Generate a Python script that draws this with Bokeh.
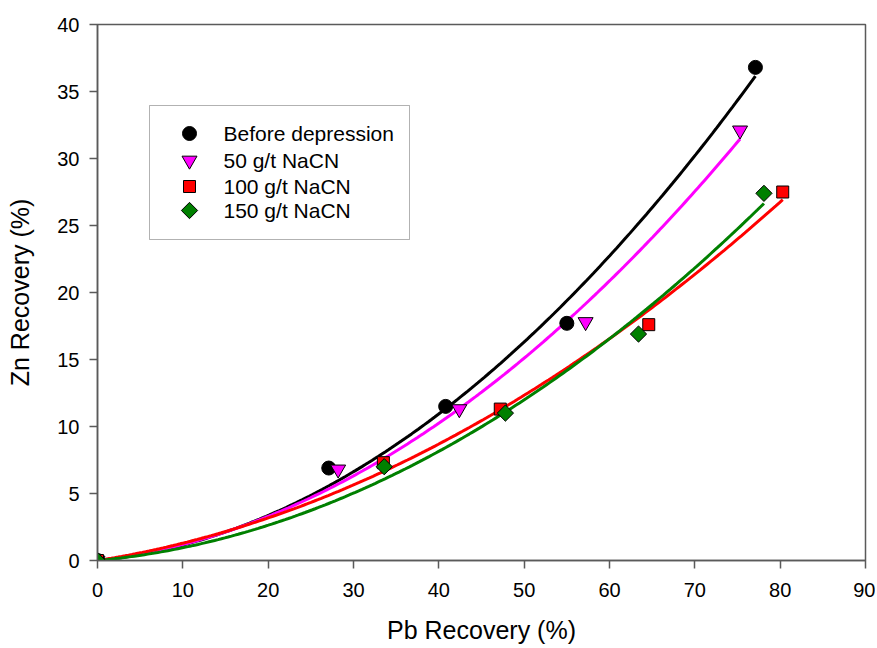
import numpy as np
from bokeh.plotting import figure
from bokeh.models import FixedTicker, BoxAnnotation, Label
from bokeh.embed import file_html
from bokeh.resources import INLINE

# ---- data ----
series_names = ["Before depression", "50 g/t NaCN", "100 g/t NaCN", "150 g/t NaCN"]
pb_before = [0.0, 27.1, 40.8, 55.0, 77.1]
zn_before = [0.0, 6.9, 11.5, 17.7, 36.8]
pb_50 = [0.0, 28.2, 42.4, 57.2, 75.3]
zn_50 = [0.0, 6.8, 11.3, 17.8, 32.1]
pb_100 = [0.0, 33.5, 47.2, 64.6, 80.3]
zn_100 = [0.0, 7.3, 11.3, 17.6, 27.5]
pb_150 = [0.0, 33.6, 47.8, 63.4, 78.1]
zn_150 = [0.0, 7.0, 11.0, 16.9, 27.4]
x_ticks = [0, 10, 20, 30, 40, 50, 60, 70, 80, 90]
y_ticks = [0, 5, 10, 15, 20, 25, 30, 35, 40]

FONT = "Liberation Sans"
X0, X1, Y0, Y1 = 0, 90, 0, 40
W, H = 875, 646
B_LEFT, B_RIGHT, B_TOP, B_BOTTOM = 97, 10, 24, 86
FRAME_W = W - B_LEFT - B_RIGHT
FRAME_H = H - B_TOP - B_BOTTOM

p = figure(width=W, height=H, x_range=(X0, X1), y_range=(Y0, Y1),
           output_backend="svg", toolbar_location=None,
           min_border_left=B_LEFT, min_border_right=B_RIGHT,
           min_border_top=B_TOP, min_border_bottom=B_BOTTOM)

p.xgrid.visible = False
p.ygrid.visible = False
p.outline_line_color = "#5a5a5a"
p.outline_line_width = 1.5

for ax in (p.xaxis[0], p.yaxis[0]):
    ax.axis_line_color = "#5a5a5a"
    ax.axis_line_width = 1.5
    ax.major_tick_line_color = "#5a5a5a"
    ax.major_tick_line_width = 1.5
    ax.major_tick_out = 8
    ax.major_tick_in = 0
    ax.minor_tick_line_color = None
    ax.major_label_text_font = FONT
    ax.major_label_text_font_size = "20px"
    ax.major_label_text_color = "#000000"
    ax.axis_label_text_font = FONT
    ax.axis_label_text_font_size = "25px"
    ax.axis_label_text_font_style = "normal"
    ax.axis_label_text_color = "#000000"

p.xaxis.ticker = FixedTicker(ticks=x_ticks)
p.yaxis.ticker = FixedTicker(ticks=y_ticks)
p.xaxis.axis_label = "Pb Recovery (%)"
p.yaxis.axis_label = "Zn Recovery (%)"
p.xaxis.major_label_standoff = 14
p.yaxis.major_label_standoff = 10
p.xaxis.axis_label_standoff = 16
p.yaxis.axis_label_standoff = 20


def fit_curve(xs, ys):
    """Least-squares quadratic through the origin: y = a*x + b*x^2."""
    xs = np.asarray(xs, dtype=float)
    ys = np.asarray(ys, dtype=float)
    A = np.column_stack([xs, xs ** 2])
    (a, b), *_ = np.linalg.lstsq(A, ys, rcond=None)
    xx = np.linspace(0, xs.max(), 200)
    return xx, a * xx + b * xx ** 2


colors = ["#000000", "#ff00ff", "#ff0000", "#008000"]
datasets = [(pb_before, zn_before), (pb_50, zn_50), (pb_100, zn_100), (pb_150, zn_150)]
marker_styles = [
    dict(marker="circle", size=14, angle=0.0),
    dict(marker="inverted_triangle", size=15, angle=0.0),
    dict(marker="square", size=12, angle=0.0),
    dict(marker="square", size=11.5, angle=np.pi / 4),
]

# fitted curves
for (xs, ys), c in zip(datasets, colors):
    xx, yy = fit_curve(xs, ys)
    p.line(xx, yy, line_color=c, line_width=3)

# data markers
for (xs, ys), c, st in zip(datasets, colors, marker_styles):
    p.scatter(xs, ys, marker=st["marker"], size=st["size"], angle=st["angle"],
              fill_color=c, line_color="#000000", line_width=1)


# ---- legend (laid out in pixels from the frame's top-left corner) ----
def px_x(px):
    return X0 + px / FRAME_W * (X1 - X0)


def px_y(py):
    return Y1 - py / FRAME_H * (Y1 - Y0)


LEG_L, LEG_T, LEG_R, LEG_B = 52, 81, 312, 215
LEG_MARK_X, LEG_TEXT_X = 92, 126
LEG_ROWS = [109, 136, 162, 186]

p.add_layout(BoxAnnotation(left=px_x(LEG_L), right=px_x(LEG_R),
                           top=px_y(LEG_T), bottom=px_y(LEG_B),
                           fill_color="#ffffff", fill_alpha=1.0,
                           line_color="#000000", line_width=1, level="underlay"))

for name, c, st, row in zip(series_names, colors, marker_styles, LEG_ROWS):
    p.scatter([px_x(LEG_MARK_X)], [px_y(row)], marker=st["marker"], size=st["size"],
              angle=st["angle"], fill_color=c, line_color="#000000", line_width=1)
    p.add_layout(Label(x=px_x(LEG_TEXT_X), y=px_y(row), text=name,
                       text_font=FONT, text_font_size="21px", text_color="#000000",
                       text_align="left", text_baseline="middle"))

open("out.html", "w").write(file_html(p, INLINE))
